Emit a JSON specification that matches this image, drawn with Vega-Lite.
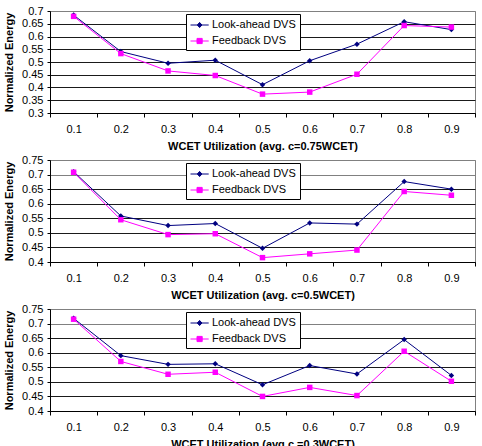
{
  "$schema": "https://vega.github.io/schema/vega-lite/v6.json",
  "background": "white",
  "padding": {"left": 3, "top": 4, "right": 4, "bottom": 0},
  "config": {
    "font": "Liberation Sans",
    "view": {"stroke": "#808080", "strokeWidth": 1},
    "axis": {
      "labelFont": "Liberation Sans",
      "labelFontSize": 11,
      "labelColor": "#000",
      "titleFont": "Liberation Sans",
      "titleFontSize": 11,
      "titleFontWeight": "bold",
      "titleColor": "#000",
      "domainColor": "#000",
      "tickColor": "#000",
      "gridColor": {"condition": {"test": "datum.value >= 0.699 && datum.value <= 0.701 || datum.value >= 0.749", "value": "#808080"}, "value": "#1a1a1a"},
      "gridOpacity": 1,
      "gridWidth": 1
    },
    "legend": {
      "orient": "none",
      "legendX": 136,
      "legendY": 3,
      "title": null,
      "strokeColor": "#000",
      "fillColor": "#fff",
      "padding": 4,
      "labelFont": "Liberation Sans",
      "labelFontSize": 11,
      "labelColor": "#000",
      "symbolSize": 169,
      "rowPadding": 4,
      "labelOffset": 8,
      "symbolStrokeWidth": 1
    }
  },
  "datasets": {
    "energy": [
      {"panel": 1, "u": 0.1, "series": "Look-ahead DVS", "energy": 0.684},
      {"panel": 1, "u": 0.2, "series": "Look-ahead DVS", "energy": 0.541},
      {"panel": 1, "u": 0.3, "series": "Look-ahead DVS", "energy": 0.495},
      {"panel": 1, "u": 0.4, "series": "Look-ahead DVS", "energy": 0.507},
      {"panel": 1, "u": 0.5, "series": "Look-ahead DVS", "energy": 0.411},
      {"panel": 1, "u": 0.6, "series": "Look-ahead DVS", "energy": 0.505},
      {"panel": 1, "u": 0.7, "series": "Look-ahead DVS", "energy": 0.570},
      {"panel": 1, "u": 0.8, "series": "Look-ahead DVS", "energy": 0.658},
      {"panel": 1, "u": 0.9, "series": "Look-ahead DVS", "energy": 0.627},
      {"panel": 1, "u": 0.1, "series": "Feedback DVS", "energy": 0.679},
      {"panel": 1, "u": 0.2, "series": "Feedback DVS", "energy": 0.533},
      {"panel": 1, "u": 0.3, "series": "Feedback DVS", "energy": 0.465},
      {"panel": 1, "u": 0.4, "series": "Feedback DVS", "energy": 0.447},
      {"panel": 1, "u": 0.5, "series": "Feedback DVS", "energy": 0.374},
      {"panel": 1, "u": 0.6, "series": "Feedback DVS", "energy": 0.382},
      {"panel": 1, "u": 0.7, "series": "Feedback DVS", "energy": 0.452},
      {"panel": 1, "u": 0.8, "series": "Feedback DVS", "energy": 0.643},
      {"panel": 1, "u": 0.9, "series": "Feedback DVS", "energy": 0.637},
      {"panel": 2, "u": 0.1, "series": "Look-ahead DVS", "energy": 0.710},
      {"panel": 2, "u": 0.2, "series": "Look-ahead DVS", "energy": 0.558},
      {"panel": 2, "u": 0.3, "series": "Look-ahead DVS", "energy": 0.525},
      {"panel": 2, "u": 0.4, "series": "Look-ahead DVS", "energy": 0.532},
      {"panel": 2, "u": 0.5, "series": "Look-ahead DVS", "energy": 0.447},
      {"panel": 2, "u": 0.6, "series": "Look-ahead DVS", "energy": 0.534},
      {"panel": 2, "u": 0.7, "series": "Look-ahead DVS", "energy": 0.530},
      {"panel": 2, "u": 0.8, "series": "Look-ahead DVS", "energy": 0.676},
      {"panel": 2, "u": 0.9, "series": "Look-ahead DVS", "energy": 0.650},
      {"panel": 2, "u": 0.1, "series": "Feedback DVS", "energy": 0.708},
      {"panel": 2, "u": 0.2, "series": "Feedback DVS", "energy": 0.545},
      {"panel": 2, "u": 0.3, "series": "Feedback DVS", "energy": 0.494},
      {"panel": 2, "u": 0.4, "series": "Feedback DVS", "energy": 0.497},
      {"panel": 2, "u": 0.5, "series": "Feedback DVS", "energy": 0.415},
      {"panel": 2, "u": 0.6, "series": "Feedback DVS", "energy": 0.428},
      {"panel": 2, "u": 0.7, "series": "Feedback DVS", "energy": 0.441},
      {"panel": 2, "u": 0.8, "series": "Feedback DVS", "energy": 0.642},
      {"panel": 2, "u": 0.9, "series": "Feedback DVS", "energy": 0.629},
      {"panel": 3, "u": 0.1, "series": "Look-ahead DVS", "energy": 0.718},
      {"panel": 3, "u": 0.2, "series": "Look-ahead DVS", "energy": 0.590},
      {"panel": 3, "u": 0.3, "series": "Look-ahead DVS", "energy": 0.560},
      {"panel": 3, "u": 0.4, "series": "Look-ahead DVS", "energy": 0.562},
      {"panel": 3, "u": 0.5, "series": "Look-ahead DVS", "energy": 0.490},
      {"panel": 3, "u": 0.6, "series": "Look-ahead DVS", "energy": 0.556},
      {"panel": 3, "u": 0.7, "series": "Look-ahead DVS", "energy": 0.527},
      {"panel": 3, "u": 0.8, "series": "Look-ahead DVS", "energy": 0.645},
      {"panel": 3, "u": 0.9, "series": "Look-ahead DVS", "energy": 0.522},
      {"panel": 3, "u": 0.1, "series": "Feedback DVS", "energy": 0.715},
      {"panel": 3, "u": 0.2, "series": "Feedback DVS", "energy": 0.570},
      {"panel": 3, "u": 0.3, "series": "Feedback DVS", "energy": 0.526},
      {"panel": 3, "u": 0.4, "series": "Feedback DVS", "energy": 0.533},
      {"panel": 3, "u": 0.5, "series": "Feedback DVS", "energy": 0.450},
      {"panel": 3, "u": 0.6, "series": "Feedback DVS", "energy": 0.481},
      {"panel": 3, "u": 0.7, "series": "Feedback DVS", "energy": 0.453},
      {"panel": 3, "u": 0.8, "series": "Feedback DVS", "energy": 0.605},
      {"panel": 3, "u": 0.9, "series": "Feedback DVS", "energy": 0.502}
    ]
  },
  "spacing": 47,
  "bounds": "flush",
  "resolve": {
    "scale": {"x": "independent", "y": "independent", "color": "independent"},
    "legend": {"color": "independent"}
  },
  "vconcat": [
    {
      "width": 425,
      "height": 102,
      "data": {"name": "energy"},
      "transform": [{"filter": "datum.panel == 1"}],
      "encoding": {
        "x": {
          "field": "u", "type": "ordinal",
          "scale": {"type": "band", "paddingInner": 0, "paddingOuter": 0},
          "axis": {"title": "WCET Utilization (avg. c=0.75WCET)", "labelAngle": 0, "tickBand": "extent", "tickSize": 4, "labelPadding": 6, "titlePadding": 6, "grid": false}
        },
        "y": {
          "field": "energy", "type": "quantitative",
          "scale": {"domain": [0.3, 0.7], "nice": false, "zero": false},
          "axis": {"title": "Normalized Energy", "values": [0.3, 0.35, 0.4, 0.45, 0.5, 0.55, 0.6, 0.65, 0.7], "format": ".2~f", "grid": true, "tickSize": 3, "labelPadding": 4, "titlePadding": 7}
        },
        "color": {
          "field": "series", "type": "nominal",
          "scale": {"domain": ["Look-ahead DVS", "Feedback DVS"], "range": ["#000080", "#FF00FF"]},
          "legend": {
            "encode": {
              "symbols": {
                "update": {
                  "shape": {"signal": "datum.value === 'Look-ahead DVS' ? 'M-1,0H1.8M0.05,0L0.4,-0.4L0.75,0L0.4,0.4Z' : 'M-1,0H1.8M0,-0.4H0.8V0.4H0Z'"},
                  "fill": {"signal": "datum.value === 'Look-ahead DVS' ? '#000080' : '#FF00FF'"},
                  "stroke": {"signal": "datum.value === 'Look-ahead DVS' ? '#000080' : '#FF00FF'"},
                  "strokeWidth": {"value": 1},
                  "opacity": {"value": 1}
                }
              }
            }
          }
        }
      },
      "layer": [
        {"mark": {"type": "line", "strokeWidth": 1}},
        {
          "transform": [{"filter": "datum.series === 'Look-ahead DVS'"}],
          "mark": {"type": "point", "shape": "diamond", "filled": true, "size": 30, "opacity": 1}
        },
        {
          "transform": [{"filter": "datum.series === 'Feedback DVS'"}],
          "mark": {"type": "point", "shape": "square", "filled": true, "size": 30, "opacity": 1}
        }
      ]
    },
    {
      "width": 425,
      "height": 102,
      "data": {"name": "energy"},
      "transform": [{"filter": "datum.panel == 2"}],
      "encoding": {
        "x": {
          "field": "u", "type": "ordinal",
          "scale": {"type": "band", "paddingInner": 0, "paddingOuter": 0},
          "axis": {"title": "WCET Utilization (avg. c=0.5WCET)", "labelAngle": 0, "tickBand": "extent", "tickSize": 4, "labelPadding": 6, "titlePadding": 6, "grid": false}
        },
        "y": {
          "field": "energy", "type": "quantitative",
          "scale": {"domain": [0.4, 0.75], "nice": false, "zero": false},
          "axis": {"title": "Normalized Energy", "values": [0.4, 0.45, 0.5, 0.55, 0.6, 0.65, 0.7, 0.75], "format": ".2~f", "grid": true, "tickSize": 3, "labelPadding": 4, "titlePadding": 7}
        },
        "color": {
          "field": "series", "type": "nominal",
          "scale": {"domain": ["Look-ahead DVS", "Feedback DVS"], "range": ["#000080", "#FF00FF"]},
          "legend": {
            "encode": {
              "symbols": {
                "update": {
                  "shape": {"signal": "datum.value === 'Look-ahead DVS' ? 'M-1,0H1.8M0.05,0L0.4,-0.4L0.75,0L0.4,0.4Z' : 'M-1,0H1.8M0,-0.4H0.8V0.4H0Z'"},
                  "fill": {"signal": "datum.value === 'Look-ahead DVS' ? '#000080' : '#FF00FF'"},
                  "stroke": {"signal": "datum.value === 'Look-ahead DVS' ? '#000080' : '#FF00FF'"},
                  "strokeWidth": {"value": 1},
                  "opacity": {"value": 1}
                }
              }
            }
          }
        }
      },
      "layer": [
        {"mark": {"type": "line", "strokeWidth": 1}},
        {
          "transform": [{"filter": "datum.series === 'Look-ahead DVS'"}],
          "mark": {"type": "point", "shape": "diamond", "filled": true, "size": 30, "opacity": 1}
        },
        {
          "transform": [{"filter": "datum.series === 'Feedback DVS'"}],
          "mark": {"type": "point", "shape": "square", "filled": true, "size": 30, "opacity": 1}
        }
      ]
    },
    {
      "width": 425,
      "height": 102,
      "data": {"name": "energy"},
      "transform": [{"filter": "datum.panel == 3"}],
      "encoding": {
        "x": {
          "field": "u", "type": "ordinal",
          "scale": {"type": "band", "paddingInner": 0, "paddingOuter": 0},
          "axis": {"title": "WCET Utilization (avg.c =0.3WCET)", "labelAngle": 0, "tickBand": "extent", "tickSize": 4, "labelPadding": 6, "titlePadding": 6, "grid": false}
        },
        "y": {
          "field": "energy", "type": "quantitative",
          "scale": {"domain": [0.4, 0.75], "nice": false, "zero": false},
          "axis": {"title": "Normalized Energy", "values": [0.4, 0.45, 0.5, 0.55, 0.6, 0.65, 0.7, 0.75], "format": ".2~f", "grid": true, "tickSize": 3, "labelPadding": 4, "titlePadding": 7}
        },
        "color": {
          "field": "series", "type": "nominal",
          "scale": {"domain": ["Look-ahead DVS", "Feedback DVS"], "range": ["#000080", "#FF00FF"]},
          "legend": {
            "encode": {
              "symbols": {
                "update": {
                  "shape": {"signal": "datum.value === 'Look-ahead DVS' ? 'M-1,0H1.8M0.05,0L0.4,-0.4L0.75,0L0.4,0.4Z' : 'M-1,0H1.8M0,-0.4H0.8V0.4H0Z'"},
                  "fill": {"signal": "datum.value === 'Look-ahead DVS' ? '#000080' : '#FF00FF'"},
                  "stroke": {"signal": "datum.value === 'Look-ahead DVS' ? '#000080' : '#FF00FF'"},
                  "strokeWidth": {"value": 1},
                  "opacity": {"value": 1}
                }
              }
            }
          }
        }
      },
      "layer": [
        {"mark": {"type": "line", "strokeWidth": 1}},
        {
          "transform": [{"filter": "datum.series === 'Look-ahead DVS'"}],
          "mark": {"type": "point", "shape": "diamond", "filled": true, "size": 30, "opacity": 1}
        },
        {
          "transform": [{"filter": "datum.series === 'Feedback DVS'"}],
          "mark": {"type": "point", "shape": "square", "filled": true, "size": 30, "opacity": 1}
        }
      ]
    }
  ]
}
